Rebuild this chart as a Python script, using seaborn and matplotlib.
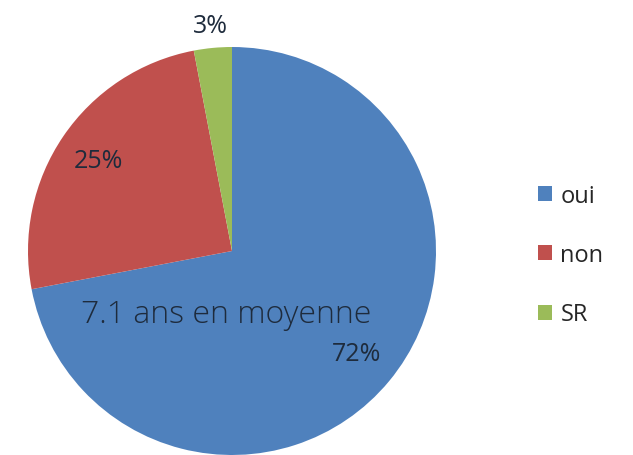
import numpy as np
import seaborn as sns
import matplotlib.pyplot as plt

# data
categories = ['oui', 'non', 'SR']
values = [72, 25, 3]
colors = ['#4F81BD', '#C0504D', '#9BBB59']
note = '7.1 ans en moyenne'

sns.set_style("white")
plt.rcParams['font.family'] = ['Open Sans', 'DejaVu Sans']

fig = plt.figure(figsize=(6.33, 4.56), dpi=100)
ax = fig.add_axes([28 / 633, 0, 408 / 633, 408 / 456])

wedges, _ = ax.pie(values, colors=colors, startangle=90, counterclock=False,
                   radius=1, wedgeprops=dict(linewidth=0))
ax.set_xlim(-1, 1)
ax.set_ylim(-1, 1)
ax.set_aspect('equal')
ax.axis('off')

# percentage labels placed along each wedge's mid angle
label_dist = [0.79, 0.79, 1.11]
for w, v, d in zip(wedges, values, label_dist):
    ang = np.deg2rad((w.theta1 + w.theta2) / 2)
    ax.text(d * np.cos(ang), d * np.sin(ang), f'{v}%', ha='center', va='center',
            fontsize=18, color='#1E2B3C', clip_on=False)

ax.text(-0.03, -0.31, note, ha='center', va='center', fontsize=23,
        color='#1E2B3C', fontweight='light')

ax.legend(wedges, categories, loc='center left', bbox_to_anchor=(538 / 633, 200 / 456),
          bbox_transform=fig.transFigure, frameon=False, fontsize=17,
          handlelength=0.6, handleheight=0.6, handletextpad=0.35,
          labelspacing=1.5, borderpad=0, borderaxespad=0)

fig.savefig('out.png', dpi=100)
